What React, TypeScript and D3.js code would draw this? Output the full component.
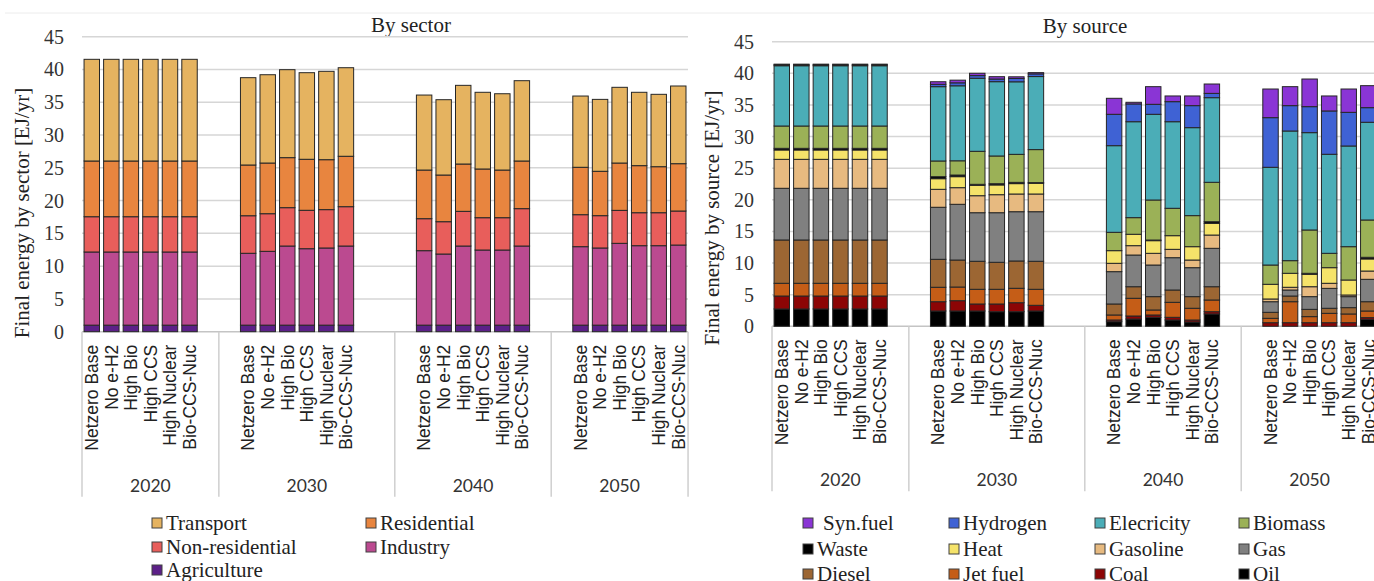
import React, { useRef, useEffect } from "react";
import * as d3 from "d3";

const years = ["2020", "2030", "2040", "2050"];
const scenarios = ["Netzero Base", "No e-H2", "High Bio", "High CCS", "High Nuclear", "Bio-CCS-Nuc"];
const yTicks = [0, 5, 10, 15, 20, 25, 30, 35, 40, 45];

// Excel-style empty categories before / after each year group
const leadBlanks = [0, 1, 1, 1];
const tailBlanks = [1, 2, 1, 0];

// ---- By sector (24 bars: 4 years x 6 scenarios) ----
const sectorNames = ["Agriculture", "Industry", "Non-residential", "Residential", "Transport"];
const agriculture = [
  1.0, 1.0, 1.0, 1.0, 1.0, 1.0,
  1.0, 1.0, 1.0, 1.0, 1.0, 1.0,
  1.0, 1.0, 1.0, 1.0, 1.0, 1.0,
  1.0, 1.0, 1.0, 1.0, 1.0, 1.0,
];
const industry = [
  11.16, 11.16, 11.16, 11.16, 11.16, 11.16,
  10.96, 11.26, 12.07, 11.66, 11.77, 12.07,
  11.36, 10.85, 12.07, 11.46, 11.46, 12.07,
  11.97, 11.77, 12.48, 12.12, 12.12, 12.22,
];
const nonResidential = [
  5.38, 5.38, 5.38, 5.38, 5.38, 5.38,
  5.73, 5.74, 5.85, 5.86, 5.85, 6.0,
  4.88, 4.93, 5.29, 4.93, 4.93, 5.7,
  4.88, 4.93, 5.03, 5.03, 5.03, 5.19,
];
const residential = [
  8.5, 8.5, 8.5, 8.5, 8.5, 8.5,
  7.74, 7.73, 7.63, 7.78, 7.62, 7.69,
  7.42, 7.12, 7.22, 7.43, 7.27, 7.27,
  7.23, 6.77, 7.22, 7.18, 7.02, 7.22,
];
const transport = [
  15.51, 15.51, 15.51, 15.51, 15.51, 15.51,
  13.32, 13.47, 13.42, 13.21, 13.48, 13.51,
  11.44, 11.49, 12.0, 11.7, 11.64, 12.25,
  10.87, 10.97, 11.55, 11.19, 11.04, 11.85,
];
const sectorColors = ["#5c2088", "#bb4a90", "#e85e5b", "#e8853f", "#e5b360"];

// ---- By source ----
const sourceNames = ["Oil", "Coal", "Jet fuel", "Diesel", "Gas", "Gasoline", "Heat", "Waste", "Biomass", "Elecricity", "Hydrogen", "Syn.fuel"];
const oil = [
  2.74, 2.74, 2.74, 2.74, 2.74, 2.74,
  2.42, 2.42, 2.42, 2.31, 2.31, 2.42,
  0.73, 1.15, 1.42, 1.0, 0.68, 1.95,
  0, 0, 0, 0, 0, 1.1,
];
const coal = [
  2.05, 2.05, 2.05, 2.05, 2.05, 2.05,
  1.47, 1.63, 1.11, 1.22, 1.42, 0.9,
  0.27, 0.48, 0.37, 0.42, 0.32, 0.36,
  0.57, 0.57, 0.57, 0.57, 0.57, 0.27,
];
const jetFuel = [
  2.01, 2.01, 2.01, 2.01, 2.01, 2.01,
  2.28, 2.16, 2.32, 2.32, 2.28, 2.53,
  0.79, 2.8, 0.79, 2.37, 1.85, 1.85,
  0.69, 3.32, 0.96, 1.48, 1.38, 1.05,
];
const diesel = [
  6.85, 6.85, 6.85, 6.85, 6.85, 6.85,
  4.42, 4.27, 4.43, 4.27, 4.32, 4.43,
  1.74, 1.83, 2.11, 1.95, 1.84, 2.1,
  0.95, 0.9, 1.15, 0.8, 1.0, 1.47,
];
const gas = [
  8.17, 8.17, 8.17, 8.17, 8.17, 8.17,
  8.23, 8.81, 7.68, 7.84, 7.79, 7.84,
  5.11, 5.01, 5.0, 5.11, 4.58, 6.07,
  1.68, 0.95, 2.01, 3.15, 1.74, 3.54,
];
const gasoline = [
  4.58, 4.58, 4.58, 4.58, 4.58, 4.58,
  2.84, 2.63, 2.69, 2.85, 2.8, 2.8,
  1.32, 1.48, 1.85, 1.32, 1.21, 2.1,
  0.43, 0.43, 1.57, 0.8, 0.26, 1.31,
];
const heat = [
  1.48, 1.48, 1.48, 1.48, 1.48, 1.48,
  1.68, 1.74, 1.65, 1.54, 1.64, 1.7,
  2.0, 1.8, 2.0, 2.16, 2.11, 1.85,
  2.32, 2.21, 1.97, 2.47, 2.37, 1.91,
];
const waste = [
  0.26, 0.26, 0.26, 0.26, 0.26, 0.26,
  0.32, 0.26, 0.15, 0.2, 0.2, 0.1,
  0, 0, 0.1, 0, 0, 0.26,
  0, 0, 0.15, 0, 0, 0.26,
];
const biomass = [
  3.53, 3.53, 3.53, 3.53, 3.53, 3.53,
  2.48, 2.25, 5.22, 4.38, 4.43, 5.22,
  2.9, 2.63, 6.33, 4.33, 4.91, 6.23,
  3.05, 2.0, 6.85, 2.27, 5.27, 5.9,
];
const electricity = [
  9.53, 9.53, 9.53, 9.53, 9.53, 9.53,
  11.75, 11.86, 11.55, 11.75, 11.47, 11.55,
  13.7, 15.17, 13.55, 13.69, 13.91, 13.38,
  15.45, 20.5, 15.39, 15.66, 15.92, 15.45,
];
const hydrogen = [
  0.15, 0.15, 0.15, 0.15, 0.15, 0.15,
  0.37, 0.47, 0.42, 0.42, 0.53, 0.42,
  4.96, 2.81, 1.58, 3.17, 3.48, 0.68,
  7.85, 4.01, 4.11, 6.85, 5.32, 2.31,
];
const synFuel = [
  0.1, 0.1, 0.1, 0.1, 0.1, 0.1,
  0.41, 0.42, 0.37, 0.37, 0.26, 0.2,
  2.53, 0.26, 2.79, 0.9, 1.53, 1.48,
  4.53, 3.0, 4.37, 2.37, 3.69, 3.48,
];
const sourceColors = [
  "#000000", "#8c0505", "#c55d17", "#9c6633", "#808080", "#e7ba80",
  "#f5e36a", "#000000", "#9bb157", "#4badb7", "#3f62d4", "#8a35d5",
];

// legend order as in the picture
const sectorLegend = ["Transport", "Residential", "Non-residential", "Industry", "Agriculture"];
const sourceLegend = ["Syn.fuel", "Hydrogen", "Elecricity", "Biomass", "Waste", "Heat", "Gasoline", "Gas", "Diesel", "Jet fuel", "Coal", "Oil"];

const SERIF = "'Liberation Serif', 'Times New Roman', serif";
const SANS = "'Liberation Sans', Arial, sans-serif";

interface PanelCfg {
  left: number;
  gridRight: number;
  yZero: number;
  yTop: number;
  title: string;
  titleX: number;
  titleY: number;
  yLabel: string;
  yLabelX: number;
  yLabelY: number;
  tickX: number;
  names: string[];
  values: number[][];
  colors: string[];
  legend: string[];
  legendCols: number[];
  legendRows: number[];
}

function drawPanel(svg: d3.Selection<SVGSVGElement, unknown, null, undefined>, cfg: PanelCfg) {
  const slots: string[] = [];
  const groupStart: number[] = [];
  years.forEach((yr, gi) => {
    groupStart.push(slots.length);
    for (let i = 0; i < leadBlanks[gi]; i++) slots.push(`${yr}-lead${i}`);
    scenarios.forEach((s) => slots.push(`${yr}|${s}`));
    for (let i = 0; i < tailBlanks[gi]; i++) slots.push(`${yr}-tail${i}`);
  });
  groupStart.push(slots.length);

  const step = 19.55;
  const x = d3
    .scaleBand<string>()
    .domain(slots)
    .range([cfg.left, cfg.left + step * slots.length])
    .paddingInner(0.21)
    .paddingOuter(0.105);
  const half = (x.step() - x.bandwidth()) / 2;
  const edge = (i: number) =>
    i < slots.length ? (x(slots[i]) as number) - half : (x(slots[slots.length - 1]) as number) + x.bandwidth() + half;

  const y = d3.scaleLinear().domain([0, 45]).range([cfg.yZero, cfg.yTop]);

  const g = svg.append("g");

  // Title
  g.append("text")
    .attr("x", cfg.titleX)
    .attr("y", cfg.titleY)
    .attr("text-anchor", "middle")
    .attr("font-family", SERIF)
    .attr("font-size", "21px")
    .attr("fill", "#222")
    .text(cfg.title);

  // Grid
  g.append("g")
    .selectAll("line")
    .data(yTicks.filter((t) => t > 0))
    .enter()
    .append("line")
    .attr("x1", cfg.left)
    .attr("x2", cfg.gridRight)
    .attr("y1", (d) => y(d))
    .attr("y2", (d) => y(d))
    .attr("stroke", "#d6d6d6")
    .attr("stroke-width", 1.5);

  // Y tick labels
  g.append("g")
    .selectAll("text")
    .data(yTicks)
    .enter()
    .append("text")
    .attr("x", cfg.tickX)
    .attr("y", (d) => y(d))
    .attr("dy", "0.35em")
    .attr("text-anchor", "end")
    .attr("font-family", SERIF)
    .attr("font-size", "20px")
    .attr("fill", "#333")
    .text((d) => d);

  // Y axis title
  g.append("text")
    .attr("transform", `translate(${cfg.yLabelX},${cfg.yLabelY}) rotate(-90)`)
    .attr("dy", "0.35em")
    .attr("text-anchor", "middle")
    .attr("font-family", SERIF)
    .attr("font-size", "21px")
    .attr("fill", "#222")
    .text(cfg.yLabel);

  // Category axis: baseline + group separators
  g.append("line")
    .attr("x1", cfg.left)
    .attr("x2", cfg.gridRight)
    .attr("y1", cfg.yZero)
    .attr("y2", cfg.yZero)
    .attr("stroke", "#c4c4c4")
    .attr("stroke-width", 1.5);

  g.append("g")
    .selectAll("line")
    .data(groupStart)
    .enter()
    .append("line")
    .attr("x1", (d) => edge(d))
    .attr("x2", (d) => edge(d))
    .attr("y1", cfg.yZero)
    .attr("y2", cfg.yZero + 165)
    .attr("stroke", "#cfcfcf")
    .attr("stroke-width", 1.5);

  // Stacked bars
  const barKeys = years.flatMap((yr) => scenarios.map((s) => `${yr}|${s}`));
  const records = barKeys.map((k, i) => {
    const r: Record<string, any> = { key: k };
    cfg.names.forEach((n, si) => (r[n] = cfg.values[si][i]));
    return r;
  });
  const layers = d3.stack<Record<string, any>>().keys(cfg.names)(records);

  layers.forEach((layer, li) => {
    g.append("g")
      .selectAll("rect")
      .data(layer.filter((d) => d[1] - d[0] > 0.001))
      .enter()
      .append("rect")
      .attr("x", (d) => x(d.data.key) as number)
      .attr("y", (d) => y(d[1]))
      .attr("width", x.bandwidth())
      .attr("height", (d) => y(d[0]) - y(d[1]))
      .attr("fill", cfg.colors[li])
      .attr("stroke", "#262626")
      .attr("stroke-width", 1);
  });

  // Scenario labels
  g.append("g")
    .selectAll("text")
    .data(barKeys)
    .enter()
    .append("text")
    .attr("transform", (d) => `translate(${(x(d) as number) + x.bandwidth() / 2},${cfg.yZero + 13}) rotate(-90)`)
    .attr("dy", "0.36em")
    .attr("text-anchor", "end")
    .attr("font-family", SANS)
    .attr("font-size", "17.5px")
    .attr("fill", "#222")
    .text((d) => d.split("|")[1]);

  // Year labels
  g.append("g")
    .selectAll("text")
    .data(years)
    .enter()
    .append("text")
    .attr("x", (_, i) => (edge(groupStart[i]) + edge(groupStart[i + 1])) / 2)
    .attr("y", cfg.yZero + 160)
    .attr("text-anchor", "middle")
    .attr("font-family", "Lato, 'Liberation Sans', sans-serif")
    .attr("font-size", "17.5px")
    .attr("fill", "#333")
    .text((d) => d);

  // Legend
  const ncol = cfg.legendCols.length;
  const legend = g.append("g");
  cfg.legend.forEach((name, i) => {
    const cx = cfg.legendCols[i % ncol];
    const cy = cfg.legendRows[Math.floor(i / ncol)];
    const color = cfg.colors[cfg.names.indexOf(name)];
    legend
      .append("rect")
      .attr("x", cx)
      .attr("y", cy - 5)
      .attr("width", 10)
      .attr("height", 10)
      .attr("fill", color)
      .attr("stroke", "#404040")
      .attr("stroke-width", 1);
    legend
      .append("text")
      .attr("x", cx + 14 + (name === "Syn.fuel" ? 6 : 0))
      .attr("y", cy)
      .attr("dy", "0.35em")
      .attr("font-family", SERIF)
      .attr("font-size", "21px")
      .attr("fill", "#222")
      .text(name);
  });
}

export default function App() {
  const svgRef = useRef<SVGSVGElement>(null);

  useEffect(() => {
    if (!svgRef.current) return;
    const svg = d3.select(svgRef.current);
    svg.selectAll("*").remove();

    svg.append("rect").attr("width", 1374).attr("height", 581).attr("fill", "#fff");
    svg.append("line")
      .attr("x1", 5)
      .attr("x2", 1374)
      .attr("y1", 13)
      .attr("y2", 13)
      .attr("stroke", "#ececec")
      .attr("stroke-width", 1);

    drawPanel(svg, {
      left: 82,
      gridRight: 688,
      yZero: 331.7,
      yTop: 36.7,
      title: "By sector",
      titleX: 411,
      titleY: 32,
      yLabel: "Final energy by sector [EJ/yr]",
      yLabelX: 22,
      yLabelY: 213,
      tickX: 64,
      names: sectorNames,
      values: [agriculture, industry, nonResidential, residential, transport],
      colors: sectorColors,
      legend: sectorLegend,
      legendCols: [152, 366],
      legendRows: [523, 547, 570],
    });

    drawPanel(svg, {
      left: 772,
      gridRight: 1374,
      yZero: 326.3,
      yTop: 41.7,
      title: "By source",
      titleX: 1085,
      titleY: 33,
      yLabel: "Final energy by source [EJ/yr]",
      yLabelX: 712,
      yLabelY: 218,
      tickX: 754,
      names: sourceNames,
      values: [oil, coal, jetFuel, diesel, gas, gasoline, heat, waste, biomass, electricity, hydrogen, synFuel],
      colors: sourceColors,
      legend: sourceLegend,
      legendCols: [803, 949, 1095, 1239],
      legendRows: [523, 549, 574],
    });
  }, []);

  return (
    <svg
      ref={svgRef}
      width={1374}
      height={581}
      style={{ position: "absolute", left: 0, top: 0, display: "block" }}
    />
  );
}
